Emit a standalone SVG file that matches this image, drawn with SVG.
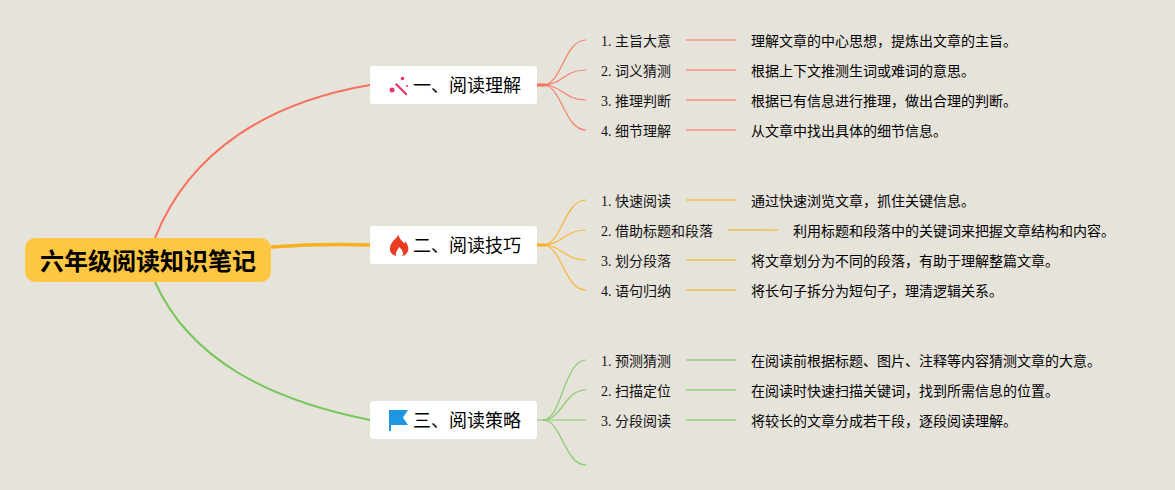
<svg xmlns="http://www.w3.org/2000/svg" width="1175" height="490" viewBox="0 0 1175 490">
<defs><style>
.bg{fill:#e6e3da}
text{font-family:"Noto Sans CJK SC","Liberation Serif",serif;fill:#000}
.leaf{font-family:"Liberation Serif","Noto Sans CJK SC",serif;font-size:14px;fill:#111}
.desc{font-size:14px}
.main{font-size:18px}
.root{font-size:24px;font-weight:700}
.card{fill:#fff}
.con{fill:none}
.red{stroke:#f8715f}.yel{stroke:#f8b01f}.grn{stroke:#78c55c}
.thin{stroke-width:1.2;opacity:.85}
.bar{stroke-width:1.6;opacity:.7}
</style></defs>
<rect class="bg" width="1175" height="490"/>
<g id="connectors">
<path class="con red" stroke-width="2" d="M155 238C190 150 270 102 370 85"/>
<path class="con yel" stroke-width="3.5" d="M271 247C300 245 340 244 370 245"/>
<path class="con grn" stroke-width="2" d="M155 282C190 360 270 400 370 420"/>
<g class="con red thin">
<path d="M543 85C562 85 564 40 586 40"/><path d="M543 85C562 85 564 70 586 70"/><path d="M543 85C562 85 564 100 586 100"/><path d="M543 85C562 85 564 130 586 130"/>
</g>
<g class="con red bar"><path d="M686 40H736"/><path d="M686 70H736"/><path d="M686 100H736"/><path d="M686 130H736"/></g>
<path fill="#f8715f" d="M537 83.500h8l3 1.500-3 1.500h-8z"/>
<g class="con yel thin">
<path d="M543 245C562 245 564 200 586 200"/><path d="M543 245C562 245 564 230 586 230"/><path d="M543 245C562 245 564 260 586 260"/><path d="M543 245C562 245 564 290 586 290"/>
</g>
<g class="con yel bar"><path d="M686 200H736"/><path d="M728 230H778"/><path d="M686 260H736"/><path d="M686 290H736"/></g>
<path fill="#f8b01f" d="M537 243.500h8l3 1.500-3 1.500h-8z"/>
<g class="con grn thin">
<path d="M543 420C562 420 564 360 586 360"/><path d="M543 420C562 420 564 390 586 390"/><path d="M537 420H586"/><path d="M543 420C562 420 564 465 586 465"/>
</g>
<g class="con grn bar"><path d="M686 360H736"/><path d="M686 390H736"/><path d="M686 420H736"/></g>
</g>
<g id="root"><rect x="25" y="238" width="246" height="44" rx="10" fill="#fdc643"/><text class="root" x="148" y="270" text-anchor="middle">六年级阅读知识笔记</text></g>
<g id="n1"><rect class="card" x="370" y="66" width="167" height="38" rx="3"/>
<g fill="#e8316f"><path d="M395 84.500l1.500-1.500 11 11-1.500 1.500z"/><circle cx="392" cy="90" r="2.500"/><circle cx="402.500" cy="78.500" r="1.800"/><circle cx="407" cy="86" r="1"/></g>
<text class="main" x="413" y="92">一、阅读理解</text></g>
<g id="n2"><rect class="card" x="370" y="226" width="167" height="38" rx="3"/>
<path fill="#e93a22" d="M398 234c1 4 3 6 6 9 1 1 1-1 1-2 3 4 4 7 3 10-1 3-4 5-6 5 2-2 1-6-3-9-1 3-4 5-3 9-3-1-6-3-6-7 0-5 2-6 4-9 2-2 4-3 4-6z"/>
<text class="main" x="413" y="252">二、阅读技巧</text></g>
<g id="n3"><rect class="card" x="370" y="401" width="167" height="38" rx="3"/>
<path fill="#1f96e2" d="M389 410h19l-5 7.500 5 7.500h-17v6h-2z"/>
<text class="main" x="413" y="427">三、阅读策略</text></g>
<g id="l1"><text class="leaf" x="601" y="46">1. 主旨大意</text><text class="desc" x="751" y="46">理解文章的中心思想，提炼出文章的主旨。</text></g>
<g id="l2"><text class="leaf" x="601" y="76">2. 词义猜测</text><text class="desc" x="751" y="76">根据上下文推测生词或难词的意思。</text></g>
<g id="l3"><text class="leaf" x="601" y="106">3. 推理判断</text><text class="desc" x="751" y="106">根据已有信息进行推理，做出合理的判断。</text></g>
<g id="l4"><text class="leaf" x="601" y="136">4. 细节理解</text><text class="desc" x="751" y="136">从文章中找出具体的细节信息。</text></g>
<g id="l5"><text class="leaf" x="601" y="206">1. 快速阅读</text><text class="desc" x="751" y="206">通过快速浏览文章，抓住关键信息。</text></g>
<g id="l6"><text class="leaf" x="601" y="236">2. 借助标题和段落</text><text class="desc" x="793" y="236">利用标题和段落中的关键词来把握文章结构和内容。</text></g>
<g id="l7"><text class="leaf" x="601" y="266">3. 划分段落</text><text class="desc" x="751" y="266">将文章划分为不同的段落，有助于理解整篇文章。</text></g>
<g id="l8"><text class="leaf" x="601" y="296">4. 语句归纳</text><text class="desc" x="751" y="296">将长句子拆分为短句子，理清逻辑关系。</text></g>
<g id="l9"><text class="leaf" x="601" y="366">1. 预测猜测</text><text class="desc" x="751" y="366">在阅读前根据标题、图片、注释等内容猜测文章的大意。</text></g>
<g id="l10"><text class="leaf" x="601" y="396">2. 扫描定位</text><text class="desc" x="751" y="396">在阅读时快速扫描关键词，找到所需信息的位置。</text></g>
<g id="l11"><text class="leaf" x="601" y="426">3. 分段阅读</text><text class="desc" x="751" y="426">将较长的文章分成若干段，逐段阅读理解。</text></g>
</svg>
